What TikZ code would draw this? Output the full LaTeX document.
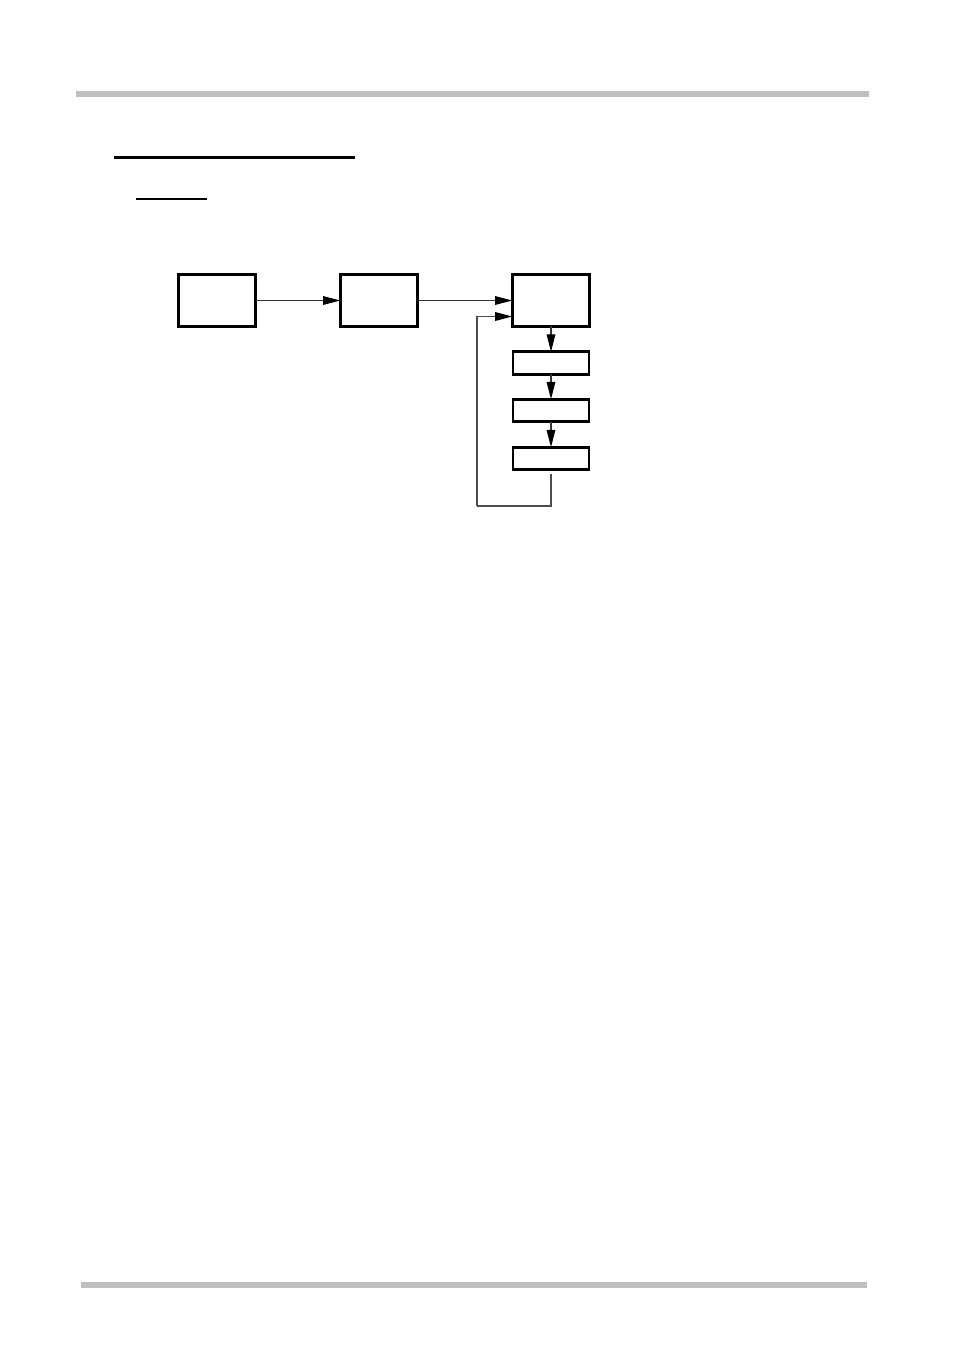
\documentclass[tikz,border=0pt]{standalone}
\usetikzlibrary{arrows.meta}

\tikzset{every picture/.style={line width=0.75pt}}
\tikzset{
  blockbig/.style={draw, line width=2.1pt, minimum width=58pt, minimum height=38.5pt, inner sep=0pt, outer sep=0pt},
  blocksmall/.style={draw, line width=2.1pt, minimum width=57pt, minimum height=17pt, inner sep=0pt, outer sep=0pt},
  headtip/.style={-{Triangle[length=13pt,width=6.5pt,black]}},
  flowarrow/.style={headtip, line width=0.8pt, black!80},
  fbline/.style={line width=1.1pt, black!70},
  rulebar/.style={line width=4.5pt, black!25}
}

\begin{document}
\begin{tikzpicture}[x=0.75pt,y=0.75pt,yscale=-1,xscale=1]
\useasboundingbox (0,0) rectangle (955,1350);

%Header and footer bars
\draw [rulebar] (76,94) -- (869,94) ;
\draw [rulebar] (81,1284.5) -- (867,1284.5) ;

%Heading underlines
\draw [line width=2.4pt] (114,157.5) -- (355,157.5) ;
\draw [line width=1.8pt] (136,199) -- (207,199) ;

%Blocks
\node [blockbig] (src) at (217,300.5) {};
\node [blockbig] (mid) at (379,300.5) {};
\node [blockbig] (ctl) at (551,300.5) {};
\node [blocksmall] (stA) at (551,363) {};
\node [blocksmall] (stB) at (551,410.5) {};
\node [blocksmall] (stC) at (551,458.5) {};

%Connectors
\draw [flowarrow] (src) -- (mid) ;
\draw [flowarrow] (mid) -- (ctl) ;
\draw [flowarrow] (ctl) -- (stA) ;
\draw [flowarrow] (stA) -- (stB) ;
\draw [flowarrow] (stB) -- (stC) ;

%Feedback loop
\coordinate (fb) at (477,506) ;
\draw [fbline] ([yshift=3pt]stC.south) |- (fb) ;
\draw [fbline, headtip] (fb) |- ([yshift=12pt]ctl.west) ;

\end{tikzpicture}
\end{document}
